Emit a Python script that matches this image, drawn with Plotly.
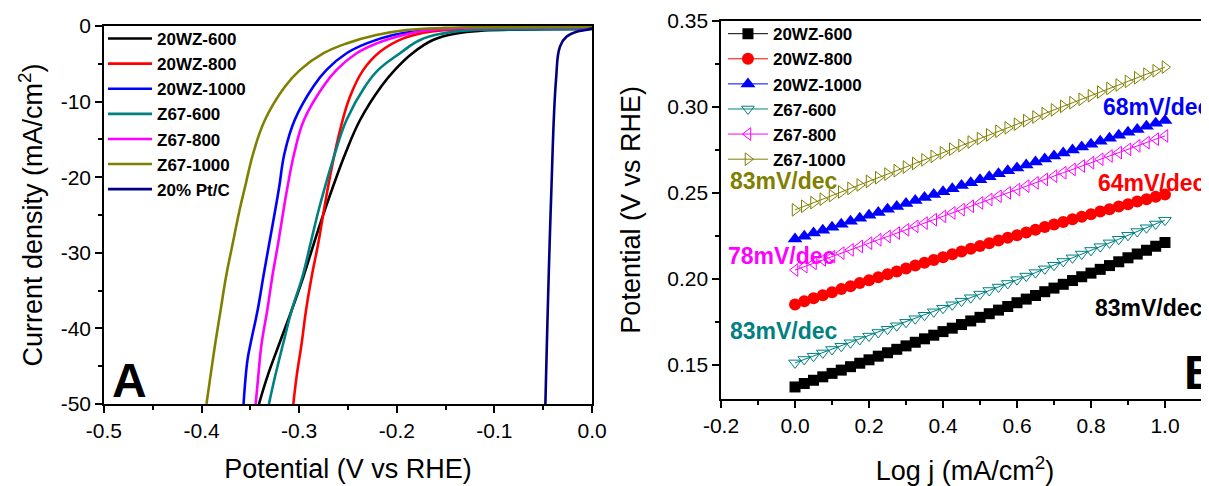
import plotly.graph_objects as go

# ---------------- Panel A: LSV polarization curves ----------------
lsv_names = ["20WZ-600", "20WZ-800", "20WZ-1000", "Z67-600", "Z67-800", "Z67-1000", "20% Pt/C"]
lsv_colors = ["#000000", "#FF0000", "#0000FF", "#008080", "#FF00FF", "#808000", "#000080"]

wz600_E = [-0.3412, -0.3327, -0.3203, -0.3077, -0.2958, -0.2848, -0.2755, -0.2655, -0.2525, -0.2375, -0.2160, -0.2020, -0.1840, -0.1630, -0.1390, -0.1110, -0.0600, 0.0]
wz600_j = [-50.0, -46.4, -42.0, -37.6, -33.2, -28.7, -25.0, -21.3, -16.8, -12.4, -8.0, -5.8, -3.6, -1.85, -0.97, -0.6, -0.45, -0.4]

wz800_E = [-0.3060, -0.3027, -0.2975, -0.2930, -0.2873, -0.2804, -0.2755, -0.2684, -0.2582, -0.2480, -0.2343, -0.2172, -0.1933, -0.1660, -0.1200, -0.0600, 0.0]
wz800_j = [-50.0, -46.4, -42.0, -37.6, -33.2, -28.7, -25.0, -19.9, -13.8, -9.35, -5.8, -3.4, -1.63, -0.75, -0.4, -0.3, -0.25]

wz1000_E = [-0.3570, -0.3530, -0.3498, -0.3426, -0.3368, -0.3306, -0.3245, -0.3205, -0.3150, -0.3045, -0.2855, -0.2720, -0.2515, -0.2310, -0.2037, -0.1730, -0.1400, -0.1000, 0.0]
wz1000_j = [-50.0, -44.2, -42.0, -37.6, -33.2, -28.7, -24.3, -21.3, -16.8, -12.4, -8.0, -5.8, -3.6, -2.3, -1.19, -0.6, -0.3, -0.2, -0.15]

z600_E = [-0.3310, -0.3248, -0.3164, -0.3077, -0.2968, -0.2883, -0.2800, -0.2736, -0.2633, -0.2514, -0.2326, -0.2190, -0.1967, -0.1762, -0.1524, -0.1220, -0.0800, 0.0]
z600_j = [-50.0, -46.4, -42.0, -37.6, -33.2, -28.7, -24.3, -21.3, -16.8, -12.4, -8.0, -5.8, -3.6, -1.85, -0.97, -0.53, -0.45, -0.4]

z800_E = [-0.3446, -0.3420, -0.3385, -0.3327, -0.3276, -0.3215, -0.3160, -0.3120, -0.3050, -0.2950, -0.2754, -0.2617, -0.2412, -0.2206, -0.1933, -0.1695, -0.1350, -0.1000, 0.0]
z800_j = [-50.0, -46.4, -42.0, -37.6, -33.2, -28.7, -24.3, -21.3, -16.8, -12.4, -8.0, -5.8, -3.6, -2.3, -1.19, -0.6, -0.3, -0.2, -0.15]

z1000_E = [-0.3950, -0.3910, -0.3860, -0.3805, -0.3750, -0.3680, -0.3610, -0.3555, -0.3470, -0.3350, -0.3145, -0.2990, -0.2750, -0.2515, -0.2210, -0.1900, -0.1500, -0.1000, 0.0]
z1000_j = [-50.0, -46.4, -42.0, -37.6, -33.2, -28.7, -24.3, -21.3, -16.8, -12.4, -8.0, -5.8, -3.6, -2.3, -1.19, -0.53, -0.25, -0.15, -0.1]

ptc_E = [-0.0478, -0.0420, -0.0369, -0.0328, -0.0260, -0.0158, -0.0050, 0.0]
ptc_j = [-50.0, -23.0, -7.1, -2.7, -1.4, -0.75, -0.5, -0.3]

lsv_E = [wz600_E, wz800_E, wz1000_E, z600_E, z800_E, z1000_E, ptc_E]
lsv_j = [wz600_j, wz800_j, wz1000_j, z600_j, z800_j, z1000_j, ptc_j]

a_xticks = [-0.5, -0.4, -0.3, -0.2, -0.1, 0.0]
a_xtext = ["-0.5", "-0.4", "-0.3", "-0.2", "-0.1", "0.0"]
a_yticks = [0, -10, -20, -30, -40, -50]
a_ytext = ["0", "-10", "-20", "-30", "-40", "-50"]

# ---------------- Panel B: Tafel plots ----------------
logj = [0.0, 0.025, 0.05, 0.075, 0.1, 0.125, 0.15, 0.175, 0.2, 0.225, 0.25, 0.275, 0.3, 0.325, 0.35,
        0.375, 0.4, 0.425, 0.45, 0.475, 0.5, 0.525, 0.55, 0.575, 0.6, 0.625, 0.65, 0.675, 0.7, 0.725,
        0.75, 0.775, 0.8, 0.825, 0.85, 0.875, 0.9, 0.925, 0.95, 0.975, 1.0]

taf_wz600 = [0.1370, 0.1390, 0.1409, 0.1429, 0.1449, 0.1468, 0.1488, 0.1508, 0.1528, 0.1549, 0.1569,
             0.1589, 0.1609, 0.1630, 0.1650, 0.1671, 0.1692, 0.1712, 0.1733, 0.1754, 0.1775, 0.1796,
             0.1817, 0.1838, 0.1860, 0.1881, 0.1902, 0.1924, 0.1945, 0.1967, 0.1989, 0.2011, 0.2032,
             0.2054, 0.2076, 0.2098, 0.2121, 0.2143, 0.2165, 0.2188, 0.2210]
taf_wz800 = [0.1850, 0.1868, 0.1886, 0.1904, 0.1921, 0.1939, 0.1956, 0.1974, 0.1991, 0.2008, 0.2025,
             0.2042, 0.2059, 0.2076, 0.2092, 0.2109, 0.2125, 0.2142, 0.2158, 0.2174, 0.2190, 0.2206,
             0.2222, 0.2238, 0.2253, 0.2269, 0.2284, 0.2300, 0.2315, 0.2330, 0.2345, 0.2360, 0.2375,
             0.2390, 0.2404, 0.2419, 0.2433, 0.2448, 0.2462, 0.2476, 0.2490]
taf_wz1000 = [0.2230, 0.2247, 0.2265, 0.2282, 0.2299, 0.2316, 0.2334, 0.2351, 0.2368, 0.2385, 0.2403,
              0.2420, 0.2437, 0.2454, 0.2472, 0.2489, 0.2506, 0.2523, 0.2541, 0.2558, 0.2575, 0.2592,
              0.2610, 0.2627, 0.2644, 0.2661, 0.2679, 0.2696, 0.2713, 0.2730, 0.2748, 0.2765, 0.2782,
              0.2799, 0.2817, 0.2834, 0.2851, 0.2868, 0.2886, 0.2903, 0.2920]
taf_z600 = [0.1510, 0.1530, 0.1549, 0.1568, 0.1588, 0.1607, 0.1627, 0.1646, 0.1666, 0.1687, 0.1706,
            0.1726, 0.1746, 0.1767, 0.1787, 0.1807, 0.1828, 0.1848, 0.1869, 0.1889, 0.1910, 0.1931,
            0.1951, 0.1972, 0.1994, 0.2015, 0.2035, 0.2057, 0.2078, 0.2100, 0.2121, 0.2143, 0.2164,
            0.2186, 0.2208, 0.2229, 0.2252, 0.2274, 0.2296, 0.2318, 0.2340]
taf_z800 = [0.2050, 0.2070, 0.2089, 0.2109, 0.2128, 0.2148, 0.2167, 0.2187, 0.2206, 0.2226, 0.2245,
            0.2265, 0.2284, 0.2304, 0.2323, 0.2343, 0.2362, 0.2382, 0.2401, 0.2421, 0.2440, 0.2460,
            0.2479, 0.2499, 0.2518, 0.2538, 0.2557, 0.2577, 0.2596, 0.2616, 0.2635, 0.2655, 0.2674,
            0.2694, 0.2713, 0.2733, 0.2752, 0.2772, 0.2791, 0.2811, 0.2830]
taf_z1000 = [0.2400, 0.2421, 0.2442, 0.2462, 0.2483, 0.2504, 0.2525, 0.2545, 0.2566, 0.2587, 0.2608,
             0.2628, 0.2649, 0.2670, 0.2691, 0.2711, 0.2732, 0.2753, 0.2774, 0.2794, 0.2815, 0.2836,
             0.2857, 0.2877, 0.2898, 0.2919, 0.2940, 0.2960, 0.2981, 0.3002, 0.3023, 0.3043, 0.3064,
             0.3085, 0.3106, 0.3126, 0.3147, 0.3168, 0.3189, 0.3209, 0.3230]

taf_names = ["20WZ-600", "20WZ-800", "20WZ-1000", "Z67-600", "Z67-800", "Z67-1000"]
taf_series = [taf_wz600, taf_wz800, taf_wz1000, taf_z600, taf_z800, taf_z1000]
taf_colors = ["#000000", "#FF0000", "#0000FF", "#008080", "#FF00FF", "#808000"]
taf_symbols = ["square", "circle", "triangle-up", "triangle-down-open", "triangle-left-open", "triangle-right-open"]
taf_sizes = [11, 12, 13, 11, 11, 11]

slope_labels = ["83mV/dec", "64mV/dec", "68mV/dec", "83mV/dec", "78mV/dec", "83mV/dec"]
slope_x = [0.957, 0.814, 0.827, -0.029, -0.0357, -0.031]
slope_y = [0.1829, 0.2559, 0.2997, 0.1693, 0.2129, 0.2565]
slope_anchor = ["center", "left", "left", "center", "center", "center"]

b_xticks = [-0.2, 0.0, 0.2, 0.4, 0.6, 0.8, 1.0]
b_xtext = ["-0.2", "0.0", "0.2", "0.4", "0.6", "0.8", "1.0"]
b_yticks = [0.15, 0.20, 0.25, 0.30, 0.35]
b_ytext = ["0.15", "0.20", "0.25", "0.30", "0.35"]

FONT = "Liberation Sans, Arial, sans-serif"
# page has an 8px body margin, so the figure is 8px smaller than the window
W, H = 1201, 478

fig = go.Figure()

for name, E, j, c in zip(lsv_names, lsv_E, lsv_j, lsv_colors):
    fig.add_trace(go.Scatter(x=E, y=j, name=name, mode="lines",
                             line=dict(color=c, width=2.6, shape="spline", smoothing=1.2),
                             xaxis="x", yaxis="y", legend="legend"))

for name, ys, c, s, sz in zip(taf_names, taf_series, taf_colors, taf_symbols, taf_sizes):
    is_open = s.endswith("open")
    fig.add_trace(go.Scatter(x=logj, y=ys, name=name, mode="lines+markers",
                             line=dict(color=c, width=1),
                             marker=dict(symbol=s, size=sz, color=c,
                                         line=dict(color=c, width=1 if is_open else 0)),
                             xaxis="x2", yaxis="y2", legend="legend2"))

axis_common = dict(showline=True, linecolor="black", linewidth=1.5, showgrid=False, zeroline=False,
                   automargin=False,
                   ticks="outside", ticklen=7, tickwidth=1.5, tickcolor="black",
                   tickfont=dict(family=FONT, size=21, color="black"))
mirror_common = dict(showline=False, showgrid=False, zeroline=False, automargin=False,
                     showticklabels=False, ticks="inside", ticklen=6, tickwidth=1.5, tickcolor="black")
title_font = dict(family=FONT, size=27, color="black")

fig.update_layout(
    template="none",
    width=W, height=H,
    margin=dict(l=0, r=0, t=0, b=0, autoexpand=False),
    paper_bgcolor="white", plot_bgcolor="white",
    showlegend=True,
    xaxis=dict(domain=[0.0799, 0.4863], range=[-0.5, 0.0], anchor="y", mirror=True,
               tickvals=a_xticks, ticktext=a_xtext,
               minor=dict(dtick=0.05, ticks="outside", ticklen=4, tickwidth=1.5, tickcolor="black"),
               title=dict(text="Potential (V vs RHE)", font=title_font, standoff=18),
               **axis_common),
    yaxis=dict(domain=[0.1715, 0.9623], range=[-50, 0], anchor="x", mirror=True,
               tickvals=a_yticks, ticktext=a_ytext,
               minor=dict(dtick=5, ticks="outside", ticklen=4, tickwidth=1.5, tickcolor="black"),
               title=dict(text="Current density (mA/cm<sup>2</sup>)", font=title_font, standoff=10),
               **axis_common),
    xaxis3=dict(overlaying="x", side="top", anchor="y", range=[-0.5, 0.0], tickvals=a_xticks,
                minor=dict(dtick=0.05, ticks="inside", ticklen=4, tickwidth=1.5, tickcolor="black"),
                **mirror_common),
    yaxis3=dict(overlaying="y", side="right", anchor="x", range=[-50, 0], tickvals=a_yticks,
                minor=dict(dtick=5, ticks="inside", ticklen=4, tickwidth=1.5, tickcolor="black"),
                **mirror_common),
    xaxis2=dict(domain=[0.5937, 1.0], range=[-0.2, 1.119], anchor="y2", mirror=True,
                tickvals=b_xticks, ticktext=b_xtext,
                minor=dict(dtick=0.1, ticks="outside", ticklen=4, tickwidth=1.5, tickcolor="black"),
                title=dict(text="Log j (mA/cm<sup>2</sup>)", font=title_font, standoff=30),
                **axis_common),
    yaxis2=dict(domain=[0.1820, 0.9734], range=[0.130, 0.35], anchor="x2", mirror=False,
                tickvals=b_yticks, ticktext=b_ytext,
                minor=dict(dtick=0.025, ticks="outside", ticklen=4, tickwidth=1.5, tickcolor="black"),
                title=dict(text="Potential (V vs RHE)", font=title_font, standoff=19),
                **axis_common),
    xaxis4=dict(overlaying="x2", side="top", anchor="y2", range=[-0.2, 1.119], tickvals=b_xticks,
                minor=dict(dtick=0.1, ticks="inside", ticklen=4, tickwidth=1.5, tickcolor="black"),
                **mirror_common),
    legend=dict(x=0.0791, y=0.9728, xanchor="left", yanchor="top", bgcolor="rgba(0,0,0,0)",
                font=dict(family=FONT, size=17, color="black", weight="bold"),
                itemwidth=44, tracegroupgap=0),
    legend2=dict(x=0.5953, y=0.9830, xanchor="left", yanchor="top", bgcolor="rgba(0,0,0,0)",
                 font=dict(family=FONT, size=17, color="black", weight="bold"),
                 itemwidth=40, tracegroupgap=0),
)

annotations = []
for t, x, y, c, a in zip(slope_labels, slope_x, slope_y, taf_colors, slope_anchor):
    annotations.append(dict(text=t, x=x, y=y, xref="x2", yref="y2", showarrow=False, xanchor=a,
                            yanchor="middle", font=dict(family=FONT, size=23, color=c, weight="bold")))
annotations.append(dict(text="A", x=-0.494, y=-46.9, xref="x", yref="y", showarrow=False, xanchor="left",
                        yanchor="middle", font=dict(family=FONT, size=48, color="black", weight="bold")))
annotations.append(dict(text="B", x=1.047, y=0.1454, xref="x2", yref="y2", showarrow=False, xanchor="left",
                        yanchor="middle", font=dict(family=FONT, size=48, color="black", weight="bold")))
fig.update_layout(annotations=annotations)

fig.write_html("out.html")
